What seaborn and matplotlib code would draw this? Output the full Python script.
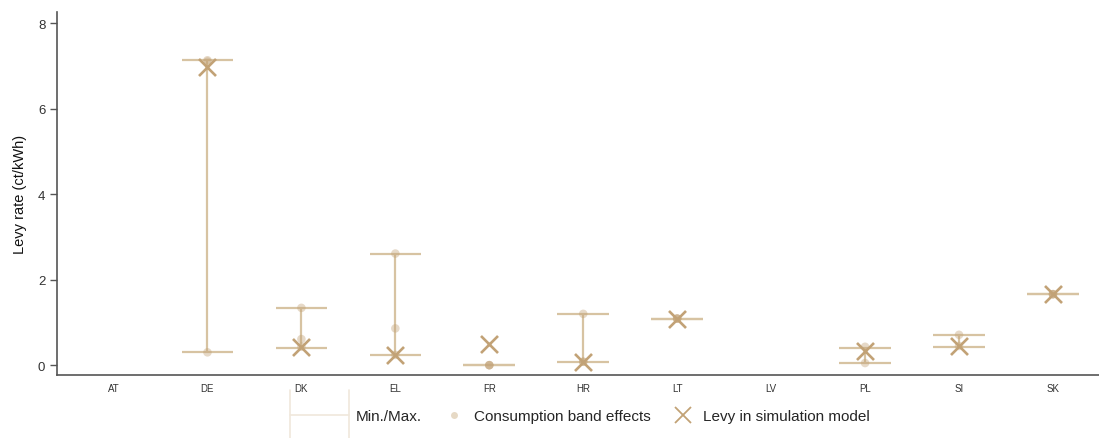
import numpy as np
import matplotlib
matplotlib.use("Agg")
import matplotlib.pyplot as plt
import seaborn as sns
from matplotlib.lines import Line2D

# data (ct/kWh)
countries = ["AT", "DE", "DK", "EL", "FR", "HR", "LT", "LV", "PL", "SI", "SK"]
min_vals = [np.nan, 0.30, 0.41, 0.24, 0.00, 0.08, 1.09, np.nan, 0.05, 0.42, 1.66]
max_vals = [np.nan, 7.13, 1.34, 2.61, 0.00, 1.20, 1.09, np.nan, 0.41, 0.71, 1.66]
levy_vals = [np.nan, 6.97, 0.43, 0.24, 0.49, 0.07, 1.09, np.nan, 0.33, 0.45, 1.66]

band_country = ["DE", "DE", "DE", "DK", "DK", "DK", "EL", "EL", "EL", "FR", "FR", "FR",
                "HR", "HR", "HR", "LT", "LT", "LT", "PL", "PL", "SI", "SI", "SK", "SK", "SK"]
band_vals = [7.13, 7.10, 0.30, 1.34, 0.61, 0.43, 2.61, 0.86, 0.24, 0.00, 0.00, 0.00,
             1.20, 0.08, 0.08, 1.09, 1.09, 1.09, 0.43, 0.05, 0.71, 0.45, 1.66, 1.66, 1.66]

tan = "#c2a276"
line_col = "#d7c3a2"
legend_line = "#f0e8dc"


class MinMaxHandler:
    def legend_artist(self, legend, orig_handle, fontsize, handlebox):
        x0, y0 = handlebox.xdescent, handlebox.ydescent
        w, h = handlebox.width, handlebox.height
        xr = x0 + w
        xl = xr - 42
        yc = y0 + h / 2
        tr = handlebox.get_transform()
        parts = [Line2D([xl, xr], [yc, yc]),
                 Line2D([xl, xl], [yc - 18, yc + 18]),
                 Line2D([xr, xr], [yc - 18, yc + 18])]
        for p in parts:
            p.set_color(legend_line)
            p.set_linewidth(1.2)
            p.set_transform(tr)
            handlebox.add_artist(p)
        return parts[0]


sns.set_style("ticks")
plt.rcParams["font.family"] = ["Liberation Sans", "DejaVu Sans"]

fig = plt.figure(figsize=(10.99, 4.39), dpi=100)
ax = fig.add_axes([0.052, 0.1435, 0.948, 0.827])

xpos = np.arange(len(countries))
pos = dict(zip(countries, xpos))
band_x = [pos[c] for c in band_country]

ax.vlines(xpos, min_vals, max_vals, color=line_col, lw=1.6, zorder=1)
ax.hlines(min_vals, xpos - 0.275, xpos + 0.275, color=line_col, lw=1.6, zorder=1)
ax.hlines(max_vals, xpos - 0.275, xpos + 0.275, color=line_col, lw=1.6, zorder=1)

sns.scatterplot(x=band_x, y=band_vals, color=tan, alpha=0.4, s=38,
                edgecolor="none", ax=ax, zorder=2, legend=False)
sns.scatterplot(x=xpos, y=levy_vals, color=tan, marker="x", s=150,
                linewidth=1.9, ax=ax, zorder=3, legend=False)

ax.set_xlim(-0.6, 10.49)
ax.set_ylim(-0.23, 8.26)
ax.set_xticks(xpos)
ax.set_xticklabels(countries, fontsize=7, color="#333333")
ax.tick_params(axis="x", length=0, pad=6)
ax.set_yticks([0, 2, 4, 6, 8])
ax.tick_params(axis="y", labelsize=9.5, colors="#333333", length=5, width=1, color="#555555")
ax.set_ylabel("Levy rate (ct/kWh)", fontsize=10.5, color="#111111", labelpad=8)
sns.despine(ax=ax)
for s in ["left", "bottom"]:
    ax.spines[s].set_color("#555555")
    ax.spines[s].set_linewidth(1.2)

h_minmax = Line2D([], [], color=legend_line)
h_band = Line2D([], [], marker="o", ls="none", color="#e6d9c5", markersize=5, markeredgewidth=0)
h_levy = Line2D([], [], marker="x", ls="none", color=tan, markersize=12, markeredgewidth=1.3)
ax.legend([h_minmax, h_band, h_levy],
          ["Min./Max.", "Consumption band effects", "Levy in simulation model"],
          handler_map={h_minmax: MinMaxHandler()},
          loc="center", bbox_to_anchor=(0.518, -0.113), ncol=3, frameon=False,
          fontsize=11, handlelength=1.6, handletextpad=0.5, columnspacing=1.3)

fig.savefig("out.png", dpi=100)
